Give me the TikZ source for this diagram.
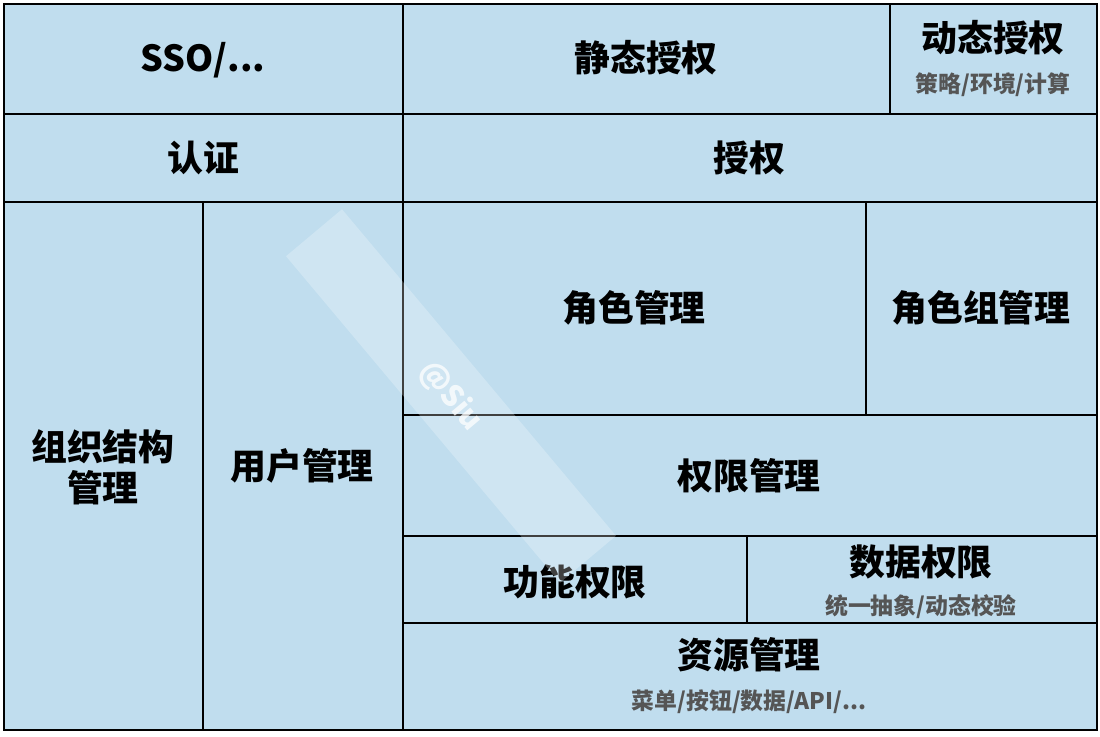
\documentclass[tikz,border=0pt]{standalone}
\usepackage{fontspec}
\setmainfont{Noto Sans CJK SC}
\definecolor{cellblue}{RGB}{192,221,238}
\definecolor{subgray}{RGB}{85,85,85}
\tikzset{
  cell/.style={draw=black,fill=cellblue,line width=0.6pt},
  lbl/.style={font=\fontsize{10.2}{11.7}\selectfont\bfseries,align=center,inner sep=0pt},
  sublbl/.style={font=\fontsize{6.5}{8}\selectfont\bfseries,text=subgray,inner sep=0pt},
}
\begin{document}
\begin{tikzpicture}[x=0.01cm,y=-0.01cm,line join=miter]
  \useasboundingbox[fill=white] (0,0) rectangle (1100,736);
  % top rows
  \draw[cell] (4,4) rectangle (403,114);
  \draw[cell] (403,4) rectangle (890,114);
  \draw[cell] (890,4) rectangle (1097,114);
  \draw[cell] (4,114) rectangle (403,202);
  \draw[cell] (403,114) rectangle (1097,202);
  % left columns
  \draw[cell] (4,202) rectangle (203,730);
  \draw[cell] (203,202) rectangle (403,730);
  % right block
  \draw[cell] (403,202) rectangle (866,415);
  \draw[cell] (866,202) rectangle (1097,415);
  \draw[cell] (403,415) rectangle (1097,536);
  \draw[cell] (403,536) rectangle (747,623);
  \draw[cell] (747,536) rectangle (1097,623);
  \draw[cell] (403,623) rectangle (1097,730);
  % labels
  \node[lbl] (sso) at (203,60) {SSO/...};
  \node[lbl] (static) at (646,58) {静态授权};
  \node[lbl] (dynamic) at (993,38) {动态授权};
  \node[sublbl] (dynsub) at (993,85) {策略/环境/计算};
  \node[lbl] (authn) at (203,158) {认证};
  \node[lbl] (authz) at (749,158) {授权};
  \node[lbl] (org) at (103,467) {组织结构\\管理};
  \node[lbl] (user) at (302,466) {用户管理};
  \node[lbl] (role) at (634,308) {角色管理};
  \node[lbl] (rolegrp) at (981,308) {角色组管理};
  \node[lbl] (perm) at (749,476) {权限管理};
  \node[lbl] (func) at (575,582) {功能权限};
  \node[lbl] (data) at (921,562) {数据权限};
  \node[sublbl] (datasub) at (921,607) {统一抽象/动态校验};
  \node[lbl] (res) at (749,655) {资源管理};
  \node[sublbl] (ressub) at (749,702) {菜单/按钮/数据/API/...};
  % watermark
  \node[rotate=-50,fill=white,fill opacity=0.25,text=white,text opacity=0.75,
        font=\fontsize{8.5}{10}\selectfont\bfseries,
        minimum width=4.26cm,minimum height=0.73cm] (mark) at (451,396) {@Siu};
\end{tikzpicture}
\end{document}
